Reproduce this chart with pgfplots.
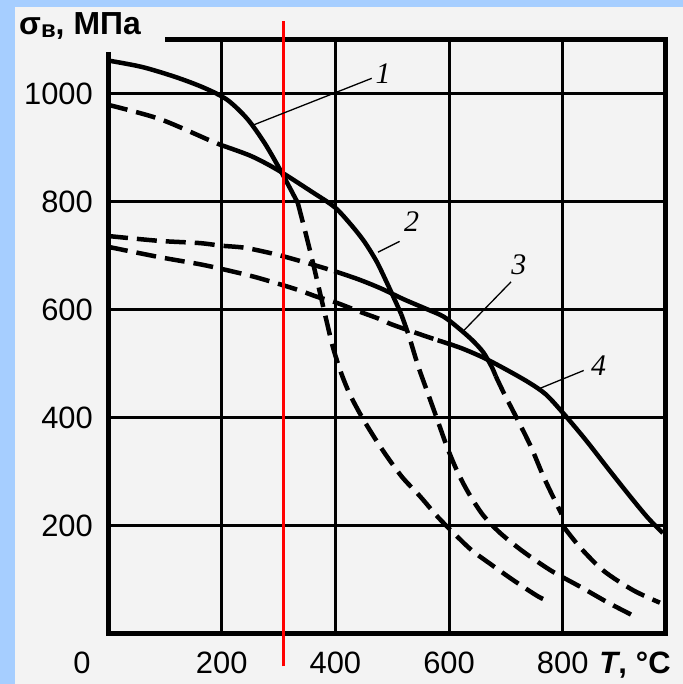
\documentclass[border=0pt]{standalone}
\usepackage{fontspec}
\setmainfont{Liberation Sans}
\newfontfamily\serifit{Liberation Serif}
\usepackage{pgfplots}
\pgfplotsset{compat=1.18}
\definecolor{bluebg}{RGB}{166,206,255}
\definecolor{paper}{RGB}{243,243,243}

\begin{document}
\begin{tikzpicture}[x=1bp,y=1bp]
\fill[bluebg] (0,0) rectangle (683,684);
\fill[paper] (15,0) rectangle (683,677);
\useasboundingbox (0,0) rectangle (683,684);
\begin{axis}[
    at={(108bp,50bp)}, anchor=south west,
    scale only axis, width=557bp, height=594bp,
    xmin=0, xmax=980, ymin=0, ymax=1100,
    axis line style={draw=none},
    xtick={200,400,600,800}, ytick={200,400,600,800,1000},
    xticklabels={200,400,600,{800\rlap{\hspace{11bp}\fontsize{31}{31}\selectfont\textbf{\textit{T},\hspace{9bp}°C}}}},
    yticklabels={200,400,600,800,1000},
    extra x ticks={0}, extra x tick labels={0},
    extra x tick style={grid=none, xticklabel style={xshift=-26bp}},
    major tick length=0pt,
    grid=major, major grid style={black, line width=3bp},
    tick label style={font=\fontsize{31}{31}\selectfont, inner sep=0pt},
    xticklabel style={anchor=north, yshift=-18bp},
    yticklabel style={anchor=east, xshift=-15bp},
    clip=false,
    curve/.style={black, line width=4.5bp, smooth},
    dsh/.style={curve, dash pattern=on 20bp off 9bp},
]
% frame, open at the top left
\draw[line width=5bp, line join=miter] (axis cs:0,1078) -- (axis cs:0,0) -- (axis cs:980,0)
    -- (axis cs:980,1100) -- (axis cs:100,1100);

% curve 1
\addplot[curve] coordinates {(0,1062) (60,1050) (120,1031) (170,1011) (210,989) (245,954) (275,910) (300,865) (320,826) (334,798)};
\addplot[dsh] coordinates {(334,798) (348,741) (360,690) (372,636) (384,582) (396,530) (410,484) (425,445) (445,405) (468,365) (490,330) (518,290) (549,255) (580,217) (610,185) (640,155) (675,128) (714,99) (756,70) (774,61)};
% curve 2
\addplot[dsh] coordinates {(0,980) (90,954) (177,915) (200,905)};
\addplot[curve] coordinates {(200,905) (252,885) (299,859) (357,820) (398,791) (425,761) (450,728) (472,691) (490,652) (504,620) (516,592)};
\addplot[dsh] coordinates {(516,592) (530,550) (546,495) (563,445) (580,395) (597,345) (615,300) (635,260) (660,220) (690,187) (730,153) (780,117) (830,88) (880,58) (924,34)};
% curve 3
\addplot[dsh] coordinates {(0,737) (90,728) (160,724) (200,719) (242,715) (299,702) (357,685) (398,672)};
\addplot[curve] coordinates {(398,672) (440,657) (480,640) (520,620) (560,602) (590,588) (615,568) (640,545) (660,522) (675,495) (682,478)};
\addplot[dsh] coordinates {(682,478) (697,445) (720,398) (744,347) (766,292) (784,252) (798,222)};
\addplot[dsh] coordinates {(802,198) (831,160) (872,117) (924,81) (971,58)};
% curve 4
\addplot[dsh] coordinates {(0,717) (90,698) (160,685) (200,676) (259,661) (329,639) (369,624) (398,615) (445,596) (476,584) (500,573) (549,555) (580,544)};
\addplot[curve] coordinates {(580,544) (620,530) (660,512) (700,490) (740,466) (770,444) (800,410) (840,360) (880,306) (920,253) (950,215) (976,187)};

% red marker line
\addplot[red, line width=3bp] coordinates {(308,-60) (308,1135)};

% leaders and curve numbers
\draw[line width=1.3bp] (axis cs:252,941) -- (axis cs:464,1029);
\draw[line width=1.3bp] (axis cs:475,707) -- (axis cs:513,727);
\draw[line width=1.3bp] (axis cs:626,562) -- (axis cs:709,652);
\draw[line width=1.3bp] (axis cs:758,454) -- (axis cs:837,488);
\node[font=\serifit\itshape\fontsize{30}{30}\selectfont, inner sep=0pt] at (axis cs:484,1038) {1};
\node[font=\serifit\itshape\fontsize{30}{30}\selectfont, inner sep=0pt] at (axis cs:534,763) {2};
\node[font=\serifit\itshape\fontsize{30}{30}\selectfont, inner sep=0pt] at (axis cs:723,683) {3};
\node[font=\serifit\itshape\fontsize{30}{30}\selectfont, inner sep=0pt] at (axis cs:863,497) {4};
\end{axis}
\node[anchor=base west, inner sep=0pt, font=\bfseries\fontsize{32}{32}\selectfont] at (19,649)
    {σ{\fontsize{24}{24}\selectfont\raisebox{-3bp}{в}},\hspace{9bp}МПа};
\end{tikzpicture}
\end{document}
